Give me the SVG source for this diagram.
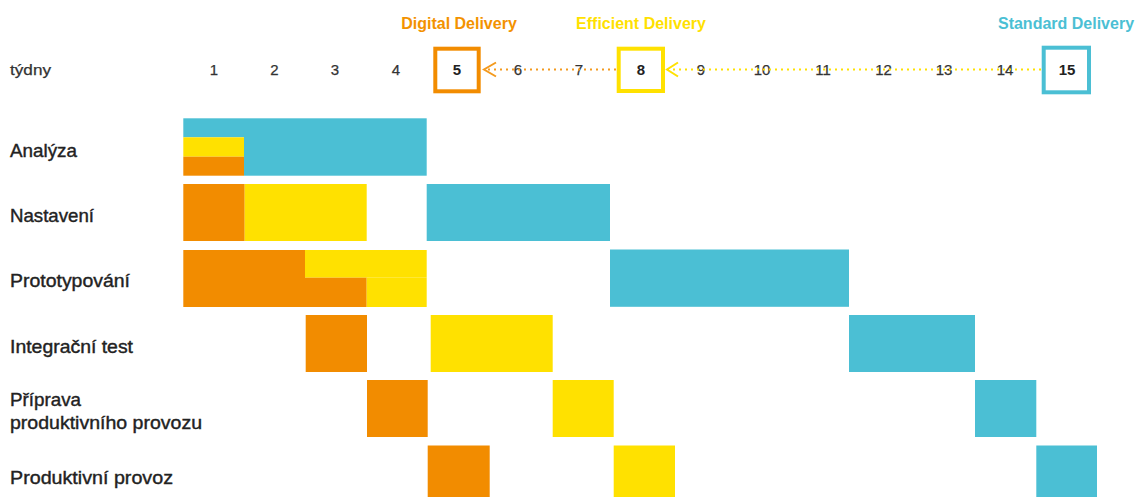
<svg xmlns="http://www.w3.org/2000/svg" width="1137" height="497" viewBox="0 0 1137 497">
  <style>
    .o { fill: #F28C00; }
    .y { fill: #FFE100; }
    .c { fill: #4BBFD4; }
    .wk { font-family: "Liberation Sans", Arial, sans-serif; font-size: 15px; fill: #333; stroke: #333; stroke-width: 0.25px; text-anchor: middle; }
    .wkb { font-family: "Liberation Sans", Arial, sans-serif; font-size: 15px; font-weight: bold; fill: #222; text-anchor: middle; }
    .lbl { font-family: "Liberation Sans", Arial, sans-serif; font-size: 18.5px; fill: #222; stroke: #222; stroke-width: 0.4px; }
    .ms { font-family: "Liberation Sans", Arial, sans-serif; font-size: 16px; font-weight: bold; text-anchor: middle; }
    .box { fill: none; stroke-width: 4; }
  </style>
  <defs>
    <marker id="chevO" markerUnits="userSpaceOnUse" markerWidth="20" markerHeight="20" refX="0" refY="0" orient="auto" overflow="visible">
      <path d="M-12,-7 L0,0 L-12,7" fill="none" stroke="#F39A1E" stroke-width="2" stroke-dasharray="none"/>
    </marker>
    <marker id="chevY" markerUnits="userSpaceOnUse" markerWidth="20" markerHeight="20" refX="0" refY="0" orient="auto" overflow="visible">
      <path d="M-11,-7 L0,0 L-11,7" fill="none" stroke="#FFE100" stroke-width="2" stroke-dasharray="none"/>
    </marker>
  </defs>
  <rect width="1137" height="497" fill="#fff"/>

  <g id="axis">
    <text class="wk" x="10" y="75" style="text-anchor:start" textLength="41" lengthAdjust="spacingAndGlyphs">týdny</text>
    <text class="wk" x="214" y="75">1</text>
    <text class="wk" x="274.5" y="75">2</text>
    <text class="wk" x="335" y="75">3</text>
    <text class="wk" x="396" y="75">4</text>
    <text class="wk" x="518" y="75">6</text>
    <text class="wk" x="579" y="75">7</text>
    <text class="wk" x="701" y="75">9</text>
    <text class="wk" x="762" y="75">10</text>
    <text class="wk" x="823" y="75">11</text>
    <text class="wk" x="883.5" y="75">12</text>
    <text class="wk" x="944" y="75">13</text>
    <text class="wk" x="1005" y="75">14</text>
  </g>

  <g id="connectors">
    <line x1="616" y1="69.5" x2="484" y2="69.5" stroke="#F39A1E" stroke-width="2.2" stroke-dasharray="2 4" marker-end="url(#chevO)"/>
    <line x1="1041" y1="69.5" x2="667" y2="69.5" stroke="#FFE100" stroke-width="2.2" stroke-dasharray="2 4" marker-end="url(#chevY)"/>
  </g>

  <g id="digital-delivery">
    <text class="ms" x="459" y="29" fill="#F39200">Digital Delivery</text>
    <rect class="box" x="435.3" y="48.7" width="43.4" height="42.6" stroke="#F28C00"/>
    <text class="wkb" x="457" y="75">5</text>
  </g>
  <g id="efficient-delivery">
    <text class="ms" x="641" y="29" fill="#FFE100">Efficient Delivery</text>
    <rect class="box" x="618.7" y="48.7" width="44.3" height="42.3" stroke="#FFE100"/>
    <text class="wkb" x="641" y="75">8</text>
  </g>
  <g id="standard-delivery">
    <text class="ms" x="1066" y="29" fill="#4BBFD4">Standard Delivery</text>
    <rect class="box" x="1043.7" y="47.7" width="45.3" height="44.6" stroke="#4BBFD4"/>
    <text class="wkb" x="1067" y="75">15</text>
  </g>

  <g id="analyza">
    <text class="lbl" x="10" y="156.5" textLength="67" lengthAdjust="spacingAndGlyphs">Analýza</text>
    <rect class="c" x="183.3" y="118.3" width="60.7" height="19"/>
    <rect class="y" x="183.3" y="137.3" width="60.7" height="19.4"/>
    <rect class="o" x="183.3" y="156.7" width="60.7" height="19"/>
    <rect class="c" x="244" y="118.3" width="182.7" height="57.4"/>
  </g>

  <g id="nastaveni">
    <text class="lbl" x="10" y="221.5" textLength="84" lengthAdjust="spacingAndGlyphs">Nastavení</text>
    <rect class="o" x="183.3" y="184" width="61.4" height="57"/>
    <rect class="y" x="244.7" y="184" width="122" height="57"/>
    <rect class="c" x="426.7" y="184" width="183.3" height="57"/>
  </g>

  <g id="prototypovani">
    <text class="lbl" x="10" y="287" textLength="120" lengthAdjust="spacingAndGlyphs">Prototypování</text>
    <rect class="o" x="183.3" y="250" width="121.7" height="57"/>
    <rect class="y" x="305" y="250" width="121.7" height="27.7"/>
    <rect class="o" x="305" y="277.7" width="61.7" height="29.3"/>
    <rect class="y" x="366.7" y="277.7" width="60" height="29.3"/>
    <rect class="c" x="610" y="249.5" width="239" height="57.3"/>
  </g>

  <g id="integracni-test">
    <text class="lbl" x="10" y="352.5" textLength="123" lengthAdjust="spacingAndGlyphs">Integrační test</text>
    <rect class="o" x="305.7" y="315" width="61.3" height="57"/>
    <rect class="y" x="430.7" y="315" width="122" height="57"/>
    <rect class="c" x="849" y="315" width="126" height="57"/>
  </g>

  <g id="priprava">
    <text class="lbl" x="10" y="406" textLength="71" lengthAdjust="spacingAndGlyphs">Příprava</text>
    <text class="lbl" x="10" y="429" textLength="192" lengthAdjust="spacingAndGlyphs">produktivního provozu</text>
    <rect class="o" x="367" y="380" width="60.7" height="57"/>
    <rect class="y" x="552.7" y="380" width="61" height="57"/>
    <rect class="c" x="975" y="380" width="61.3" height="57"/>
  </g>

  <g id="produktivni-provoz">
    <text class="lbl" x="10" y="484" textLength="163" lengthAdjust="spacingAndGlyphs">Produktivní provoz</text>
    <rect class="o" x="427.7" y="445.5" width="62" height="57"/>
    <rect class="y" x="613.7" y="445.5" width="61.3" height="57"/>
    <rect class="c" x="1036.3" y="445.5" width="60.7" height="57"/>
  </g>
</svg>
